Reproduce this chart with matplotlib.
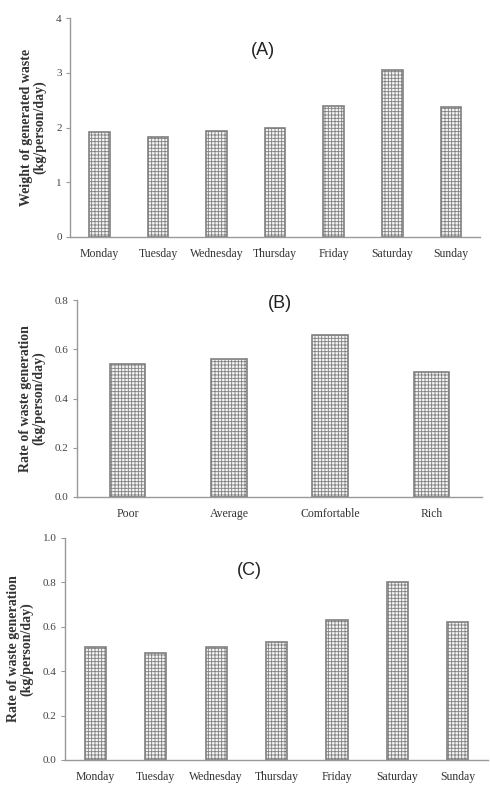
import matplotlib
matplotlib.use("Agg")
import numpy as np
import matplotlib.pyplot as plt

# data
days = ["Monday", "Tuesday", "Wednesday", "Thursday", "Friday", "Saturday", "Sunday"]
weight_a = [1.92, 1.83, 1.94, 2.00, 2.39, 3.05, 2.37]

classes = ["Poor", "Average", "Comfortable", "Rich"]
rate_b = [0.54, 0.56, 0.66, 0.51]

rate_c = [0.51, 0.48, 0.51, 0.53, 0.63, 0.80, 0.62]

plt.rcParams['hatch.color'] = '#b4b4b4'
plt.rcParams['hatch.linewidth'] = 0.6
serif = ['Liberation Serif', 'DejaVu Serif']

fig = plt.figure(figsize=(4.9, 7.9), dpi=100)

def panel(rect, labels, vals, ymax, step, fmt, ylab, title, ty, tx):
    ax = fig.add_axes(rect)
    x = np.arange(len(labels))
    bars = ax.bar(x, vals, width=0.35, color='#f4f4f4', edgecolor='#808080',
                  hatch='+++++', linewidth=1.2)
    ax.set_xlim(-0.5, len(labels) - 0.5)
    ax.set_ylim(0, ymax)
    ax.set_yticks(np.arange(0, ymax + step / 2, step))
    ax.set_yticklabels([fmt % v for v in np.arange(0, ymax + step / 2, step)],
                       family=serif, fontsize=8, color='#444')
    ax.set_xticks(x)
    ax.set_xticklabels(labels, family=serif, fontsize=8.5, color='#333')
    ax.tick_params(axis='x', length=0, pad=8)
    ax.tick_params(axis='y', length=3, width=0.8, color='#999', pad=3)
    for s in ['top', 'right']:
        ax.spines[s].set_visible(False)
    for s in ['left', 'bottom']:
        ax.spines[s].set_color('#999')
        ax.spines[s].set_linewidth(1.0)
    ax.set_ylabel(ylab, family=serif, fontsize=10, fontweight='bold',
                  color='#333', linespacing=0.95, labelpad=7)
    ax.text(tx, ty, title, fontsize=13, family=['Liberation Sans', 'DejaVu Sans'],
            ha='center', va='center', color='#222')
    return ax

panel([0.143, 0.700, 0.837, 0.277], days, weight_a, 4, 1, '%d',
      "Weight of generated waste\n(kg/person/day)", "(A)", 3.4, 2.8)
panel([0.157, 0.371, 0.827, 0.249], classes, rate_b, 0.8, 0.2, '%.1f',
      "Rate of waste generation\n(kg/person/day)", "(B)", 0.785, 1.5)
panel([0.133, 0.038, 0.863, 0.281], days, rate_c, 1.0, 0.2, '%.1f',
      "Rate of waste generation\n(kg/person/day)", "(C)", 0.855, 2.55)

fig.savefig("out.png", dpi=100)
